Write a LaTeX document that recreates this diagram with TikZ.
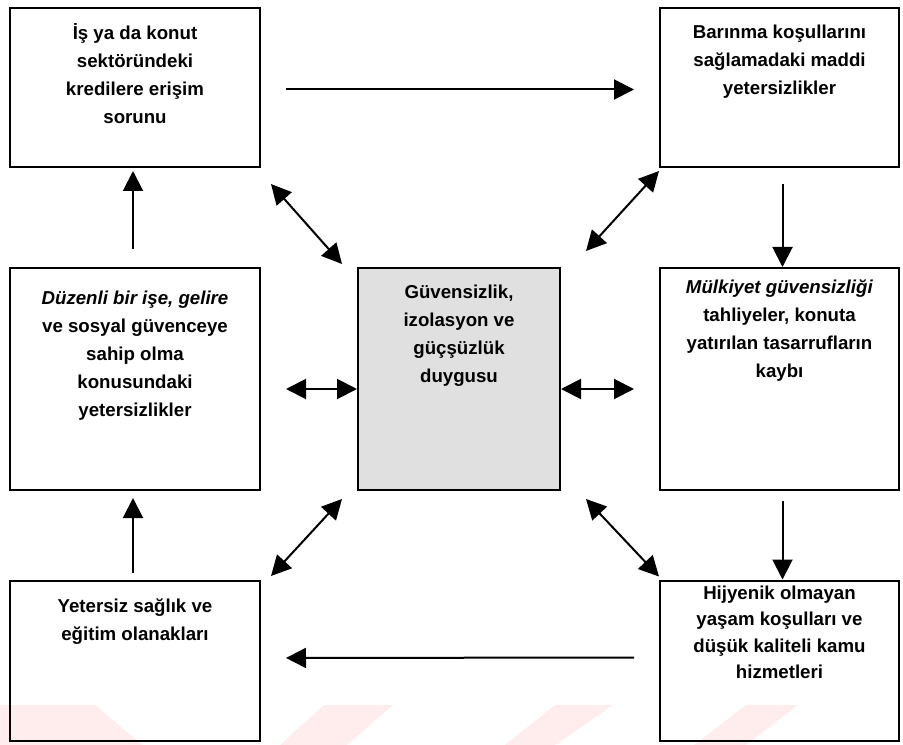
\documentclass[tikz,border=0pt]{standalone}
\usepackage{fontspec}
\setmainfont{Liberation Sans}
\usetikzlibrary{arrows.meta}

% text set from the top of a box
\newcommand{\celltext}[4]{\parbox[c][#2][t]{#1}{\centering\vspace*{#3}#4}}

\begin{document}
\begin{tikzpicture}[
x=0.75pt, y=-0.75pt,
cell/.style={draw=black, line width=1.5pt, inner sep=0pt, font=\fontsize{14}{21}\selectfont\bfseries},
shaded/.style={cell, fill=black!12},
arr/.style={line width=1.5pt, -{Triangle[length=15pt, width=15pt]}},
twoway/.style={line width=1.5pt, {Triangle[length=15pt, width=15pt]}-{Triangle[length=15pt, width=15pt]}}]

\useasboundingbox (0,0) rectangle (903,745);

% watermark
\fill[red!7] (0,705) -- (95,705) -- (142,745) -- (0,745) -- cycle;
\fill[red!7] (324,705) -- (393,705) -- (347,745) -- (280,745) -- cycle;
\fill[red!7] (555,705) -- (613,705) -- (555,745) -- (505,745) -- cycle;
\fill[red!7] (746,705) -- (798,705) -- (746,745) -- (694,745) -- cycle;

\node[cell] (credit) at (135,87.5)
  {\celltext{187.5pt}{119.25pt}{12pt}{\.I\c{s} ya da konut\\ sektöründeki\\ kredilere eri\c{s}im\\ sorunu}};
\node[cell] (shelter) at (779.5,87.5)
  {\celltext{179.25pt}{119.25pt}{13pt}{Barınma ko\c{s}ullarını\\ sa\u{g}lamadaki maddi\\ yetersizlikler}};
\node[cell] (income) at (135,379)
  {\celltext{187.5pt}{166.5pt}{17pt}{\textit{Düzenli bir i\c{s}e, gelire}\\ ve sosyal güvenceye\\ sahip olma\\ konusundaki\\ yetersizlikler}};
\node[shaded] (feeling) at (459,379)
  {\celltext{151.5pt}{166.5pt}{13pt}{Güvensizlik,\\ izolasyon ve\\ güç\c{s}üzlük\\ duygusu}};
\node[cell] (tenure) at (779.5,379)
  {\celltext{179.25pt}{166.5pt}{9pt}{\textit{Mülkiyet güvensizli\u{g}i}\\ tahliyeler, konuta\\ yatırılan tasarrufların\\ kaybı}};
\node[cell] (health) at (135,661)
  {\celltext{187.5pt}{120pt}{13pt}{Yetersiz sa\u{g}lık ve\\ e\u{g}itim olanakları}};
\node[cell] (hygiene) at (779.5,660.5)
  {\celltext{179.25pt}{120pt}{4pt}{\baselineskip=19.75pt Hijyenik olmayan\\ ya\c{s}am ko\c{s}ulları ve\\ dü\c{s}ük kaliteli kamu\\ hizmetleri}};

% ring
\draw[arr, shorten <=18.75pt, shorten >=18.75pt] ([yshift=-1.5pt]credit.east) -- ([yshift=-1.5pt]shelter.west);
\draw[arr, shorten <=12pt] ([xshift=2.25pt]shelter.south) -- ([xshift=2.25pt]tenure.north);
\draw[arr, shorten <=7.5pt] ([xshift=2.25pt]tenure.south) -- ([xshift=2.25pt]hygiene.north);
\draw[arr, shorten <=18.75pt, shorten >=18.75pt] ([yshift=2.25pt]hygiene.west) -- ([yshift=2.25pt]health.east);
\draw[arr, shorten <=5.25pt, shorten >=5.25pt] ([xshift=-1.5pt]health.north) -- ([xshift=-1.5pt]income.south);
\draw[arr, shorten <=13.5pt, shorten >=2.25pt] ([xshift=-1.5pt]income.north) -- ([xshift=-1.5pt]credit.south);

% to and from the centre
\draw[twoway] ([shift={(-15,-3)}]feeling.north west) -- ([shift={(10,16)}]credit.south east);
\draw[twoway] ([shift={(25,-16)}]feeling.north east) -- ([shift={(0,3)}]shelter.south west);
\draw[twoway] ([shift={(-15,8)}]feeling.south west) -- ([shift={(10,-4)}]health.north east);
\draw[twoway] ([shift={(25,8)}]feeling.south east) -- ([shift={(0,-3)}]hygiene.north west);
\draw[twoway, shorten >=18.75pt] ([yshift=-7.5pt]feeling.west) -- ([yshift=-7.5pt]income.east);
\draw[twoway, shorten >=18.75pt] ([yshift=-7.5pt]feeling.east) -- ([yshift=-7.5pt]tenure.west);
\end{tikzpicture}
\end{document}
